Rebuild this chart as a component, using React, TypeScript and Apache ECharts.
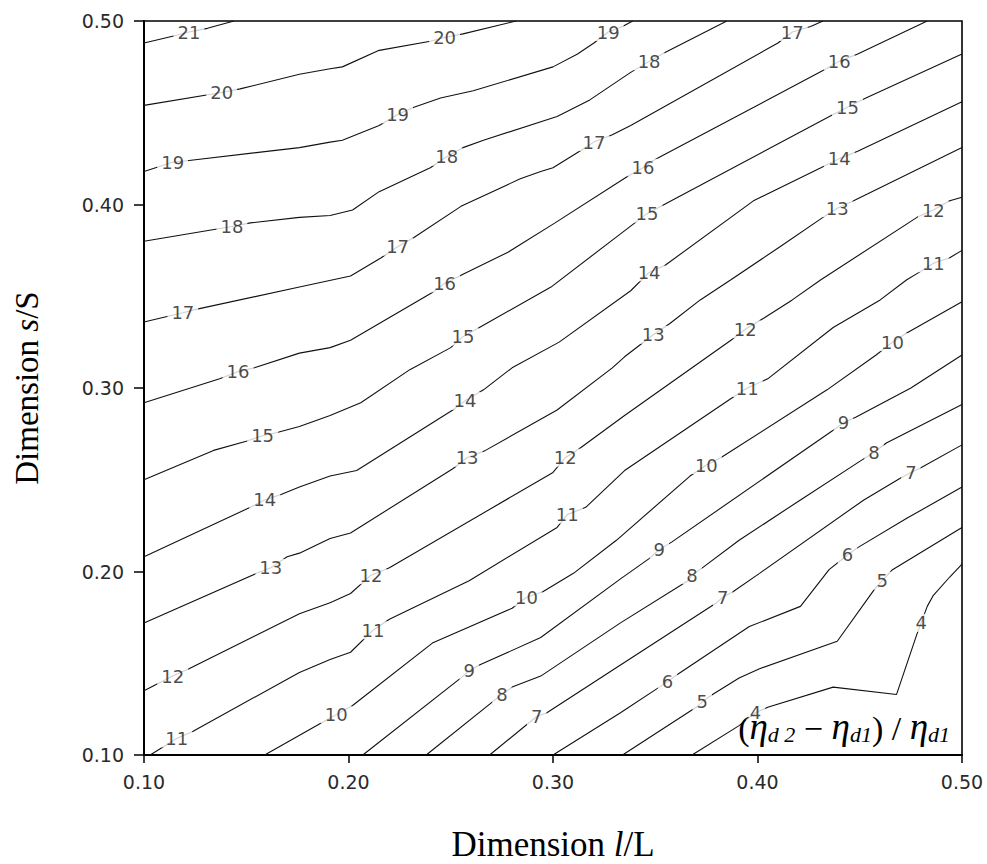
import React, { useEffect, useRef } from "react";
import * as echarts from "echarts";

// Axis ticks
const xTicks = [0.1, 0.2, 0.3, 0.4, 0.5];
const yTicks = [0.1, 0.2, 0.3, 0.4, 0.5];

// Contour lines: [l/L, s/S] points
const c4 = [[0.368,0.100],[0.391,0.116],[0.399,0.123],[0.405,0.126],[0.437,0.137],[0.468,0.133],[0.478,0.166],[0.480,0.172],[0.483,0.181],[0.486,0.187],[0.494,0.197],[0.500,0.204]];
const c5 = [[0.334,0.100],[0.370,0.126],[0.373,0.129],[0.378,0.133],[0.391,0.142],[0.401,0.147],[0.439,0.162],[0.457,0.190],[0.461,0.195],[0.466,0.201],[0.500,0.224]];
const c6 = [[0.300,0.100],[0.333,0.123],[0.352,0.137],[0.356,0.140],[0.361,0.144],[0.396,0.170],[0.421,0.181],[0.435,0.201],[0.444,0.209],[0.449,0.213],[0.473,0.229],[0.500,0.246]];
const c7 = [[0.269,0.100],[0.292,0.121],[0.297,0.123],[0.333,0.149],[0.380,0.183],[0.383,0.186],[0.388,0.189],[0.401,0.199],[0.452,0.239],[0.470,0.251],[0.475,0.254],[0.479,0.256],[0.500,0.269]];
const c8 = [[0.238,0.100],[0.275,0.133],[0.280,0.137],[0.294,0.143],[0.333,0.172],[0.366,0.195],[0.368,0.198],[0.373,0.202],[0.391,0.217],[0.421,0.239],[0.450,0.260],[0.457,0.265],[0.463,0.270],[0.500,0.291]];
const c9 = [[0.207,0.100],[0.255,0.142],[0.259,0.146],[0.264,0.149],[0.294,0.164],[0.333,0.196],[0.347,0.207],[0.352,0.212],[0.358,0.216],[0.437,0.277],[0.442,0.281],[0.448,0.284],[0.475,0.300],[0.500,0.318]];
const c10 = [[0.159,0.100],[0.186,0.117],[0.194,0.122],[0.202,0.127],[0.241,0.161],[0.280,0.180],[0.287,0.186],[0.295,0.189],[0.310,0.199],[0.331,0.217],[0.367,0.252],[0.375,0.258],[0.382,0.262],[0.434,0.299],[0.458,0.318],[0.466,0.325],[0.473,0.330],[0.500,0.347]];
const c11 = [[0.103,0.100],[0.116,0.109],[0.124,0.113],[0.176,0.145],[0.191,0.152],[0.201,0.156],[0.212,0.168],[0.220,0.174],[0.259,0.195],[0.302,0.224],[0.307,0.231],[0.316,0.235],[0.335,0.255],[0.388,0.295],[0.395,0.300],[0.405,0.305],[0.437,0.333],[0.460,0.348],[0.473,0.359],[0.479,0.363],[0.486,0.368],[0.494,0.371],[0.500,0.375]];
const c12 = [[0.100,0.135],[0.114,0.143],[0.122,0.147],[0.176,0.177],[0.191,0.183],[0.201,0.188],[0.211,0.198],[0.220,0.202],[0.300,0.254],[0.306,0.262],[0.313,0.267],[0.335,0.285],[0.387,0.326],[0.394,0.332],[0.403,0.338],[0.417,0.348],[0.431,0.359],[0.478,0.393],[0.486,0.397],[0.494,0.402],[0.500,0.404]];
const c13 = [[0.100,0.172],[0.155,0.199],[0.162,0.202],[0.170,0.208],[0.176,0.210],[0.191,0.218],[0.201,0.221],[0.251,0.256],[0.258,0.262],[0.267,0.266],[0.302,0.288],[0.329,0.311],[0.335,0.317],[0.349,0.329],[0.357,0.335],[0.372,0.348],[0.387,0.359],[0.411,0.377],[0.432,0.393],[0.439,0.398],[0.447,0.402],[0.500,0.431]];
const c14 = [[0.100,0.208],[0.152,0.235],[0.159,0.239],[0.167,0.242],[0.176,0.246],[0.191,0.252],[0.204,0.255],[0.251,0.288],[0.257,0.293],[0.266,0.299],[0.280,0.311],[0.303,0.325],[0.338,0.353],[0.347,0.363],[0.355,0.367],[0.398,0.402],[0.431,0.420],[0.440,0.425],[0.449,0.429],[0.500,0.456]];
const c15 = [[0.100,0.250],[0.134,0.266],[0.150,0.271],[0.158,0.274],[0.166,0.276],[0.176,0.279],[0.191,0.285],[0.206,0.292],[0.230,0.310],[0.250,0.322],[0.256,0.328],[0.264,0.333],[0.299,0.355],[0.333,0.384],[0.346,0.395],[0.356,0.401],[0.437,0.449],[0.444,0.453],[0.453,0.458],[0.500,0.482]];
const c16 = [[0.100,0.292],[0.137,0.305],[0.146,0.309],[0.154,0.311],[0.176,0.319],[0.191,0.322],[0.201,0.326],[0.241,0.352],[0.247,0.357],[0.256,0.362],[0.278,0.374],[0.301,0.390],[0.336,0.415],[0.344,0.420],[0.349,0.424],[0.432,0.473],[0.440,0.478],[0.449,0.482],[0.483,0.500]];
const c17 = [[0.100,0.336],[0.119,0.341],[0.126,0.343],[0.176,0.355],[0.201,0.361],[0.216,0.371],[0.224,0.377],[0.232,0.382],[0.255,0.399],[0.284,0.414],[0.294,0.418],[0.300,0.420],[0.313,0.429],[0.320,0.434],[0.329,0.438],[0.338,0.443],[0.410,0.488],[0.417,0.494],[0.426,0.497],[0.432,0.500]];
const c18 = [[0.100,0.380],[0.143,0.388],[0.152,0.390],[0.176,0.393],[0.191,0.394],[0.202,0.397],[0.215,0.407],[0.240,0.420],[0.248,0.426],[0.256,0.431],[0.266,0.435],[0.302,0.448],[0.318,0.457],[0.338,0.472],[0.347,0.478],[0.355,0.483],[0.385,0.500]];
const c19 = [[0.100,0.418],[0.114,0.423],[0.122,0.424],[0.176,0.431],[0.191,0.434],[0.197,0.435],[0.215,0.443],[0.224,0.449],[0.232,0.453],[0.245,0.458],[0.261,0.462],[0.300,0.475],[0.312,0.482],[0.320,0.488],[0.327,0.494],[0.334,0.497],[0.339,0.500]];
const c20 = [[0.100,0.454],[0.138,0.461],[0.147,0.463],[0.176,0.471],[0.191,0.474],[0.197,0.475],[0.215,0.484],[0.240,0.489],[0.247,0.491],[0.256,0.493],[0.282,0.500]];
const c21 = [[0.100,0.488],[0.115,0.492],[0.122,0.494],[0.131,0.496],[0.144,0.500]];

// Contour label positions
const l4 = [[0.399,0.123],[0.480,0.172]];
const l5 = [[0.373,0.129],[0.461,0.195]];
const l6 = [[0.356,0.140],[0.444,0.209]];
const l7 = [[0.292,0.121],[0.383,0.186],[0.475,0.254]];
const l8 = [[0.275,0.133],[0.368,0.198],[0.457,0.265]];
const l9 = [[0.259,0.146],[0.352,0.212],[0.442,0.281]];
const l10 = [[0.194,0.122],[0.287,0.186],[0.375,0.258],[0.466,0.325]];
const l11 = [[0.116,0.109],[0.212,0.168],[0.307,0.231],[0.395,0.300],[0.486,0.368]];
const l12 = [[0.114,0.143],[0.211,0.198],[0.306,0.262],[0.394,0.332],[0.486,0.397]];
const l13 = [[0.162,0.202],[0.258,0.262],[0.349,0.329],[0.439,0.398]];
const l14 = [[0.159,0.239],[0.257,0.293],[0.347,0.363],[0.440,0.425]];
const l15 = [[0.158,0.274],[0.256,0.328],[0.346,0.395],[0.444,0.453]];
const l16 = [[0.146,0.309],[0.247,0.357],[0.344,0.420],[0.440,0.478]];
const l17 = [[0.119,0.341],[0.224,0.377],[0.320,0.434],[0.417,0.494]];
const l18 = [[0.143,0.388],[0.248,0.426],[0.347,0.478]];
const l19 = [[0.114,0.423],[0.224,0.449],[0.327,0.494]];
const l20 = [[0.138,0.461],[0.247,0.491]];
const l21 = [[0.122,0.494]];

const levels = [4, 5, 6, 7, 8, 9, 10, 11, 12, 13, 14, 15, 16, 17, 18, 19, 20, 21];
const lines = [c4, c5, c6, c7, c8, c9, c10, c11, c12, c13, c14, c15, c16, c17, c18, c19, c20, c21];
const labelSets = [l4, l5, l6, l7, l8, l9, l10, l11, l12, l13, l14, l15, l16, l17, l18, l19, l20, l21];

const SANS = "'DejaVu Sans', 'Liberation Sans', Arial, sans-serif";
const SERIF = "'Liberation Serif', 'Times New Roman', serif";

export default function App() {
  const ref = useRef<HTMLDivElement>(null);
  useEffect(() => {
    if (!ref.current) return;
    const chart = echarts.init(ref.current, null, { renderer: "svg" });

    const lineSeries = levels.map((lv, i) => ({
      type: "line",
      name: "level " + lv,
      data: lines[i],
      symbol: "none",
      showSymbol: false,
      smooth: false,
      silent: true,
      z: 2,
      lineStyle: { color: "#111", width: 1.1 },
    }));

    const labelData: any[] = [];
    levels.forEach((lv, i) => {
      labelSets[i].forEach((p) => labelData.push({ value: [p[0], p[1], lv] }));
    });

    const nameStyle = (size: number) => ({
      fontFamily: SERIF,
      fontSize: size,
      color: "#000",
      rich: {
        a: { fontFamily: SERIF, fontSize: size, color: "#000" },
        b: { fontFamily: SERIF, fontSize: size, color: "#000", fontStyle: "italic" },
      },
    });

    chart.setOption({
      animation: false,
      backgroundColor: "#fff",
      grid: {
        left: 144,
        right: 25,
        top: 21,
        bottom: 109,
        show: true,
        borderColor: "#000",
        borderWidth: 1.6,
        containLabel: false,
        outerBoundsMode: "none",
      },
      xAxis: {
        type: "value",
        min: 0.1,
        max: 0.5,
        interval: 0.1,
        name: "{a|Dimension }{b|l}{a|/L}",
        nameLocation: "middle",
        nameGap: 72,
        nameTextStyle: nameStyle(35),
        axisLine: { show: true, onZero: false, lineStyle: { color: "#000", width: 2 } },
        axisTick: { show: true, inside: false, length: 8, lineStyle: { color: "#000", width: 1.5 } },
        splitLine: { show: false },
        axisLabel: {
          margin: 17,
          fontFamily: SANS,
          fontSize: 19,
          color: "#2a2a2a",
          formatter: (v: number) => v.toFixed(2),
          customValues: xTicks,
        },
      },
      yAxis: {
        type: "value",
        min: 0.1,
        max: 0.5,
        interval: 0.1,
        name: "{a|Dimension }{b|s}{a|/S}",
        nameLocation: "middle",
        nameGap: 101,
        nameTextStyle: nameStyle(33),
        axisLine: { show: true, onZero: false, lineStyle: { color: "#000", width: 2 } },
        axisTick: { show: true, inside: false, length: 10, lineStyle: { color: "#000", width: 1.5 } },
        splitLine: { show: false },
        axisLabel: {
          margin: 20,
          fontFamily: SANS,
          fontSize: 19,
          color: "#2a2a2a",
          formatter: (v: number) => v.toFixed(2),
          customValues: yTicks,
        },
      },
      series: [
        ...lineSeries,
        {
          type: "scatter",
          name: "labels",
          data: labelData,
          symbolSize: 1,
          silent: true,
          z: 5,
          itemStyle: { color: "rgba(0,0,0,0)" },
          label: {
            show: true,
            position: "inside",
            formatter: (p: any) => String(p.value[2]),
            fontFamily: SANS,
            fontSize: 18,
            lineHeight: 18,
            color: "#1a1a1a",
            backgroundColor: "#fff",
            padding: [0, 4],
          },
        },
      ],
      graphic: [
        {
          type: "text",
          x: 950,
          y: 745,
          z: 100,
          silent: true,
          style: {
            text: "{p|(}{e|η}{s|d 2}{p| − }{e|η}{s|d1}{p|) / }{e|η}{s|d1}",
            align: "right",
            verticalAlign: "bottom",
            fill: "#000",
            rich: {
              p: { fontFamily: SERIF, fontSize: 34, lineHeight: 40, verticalAlign: "bottom", fill: "#000" },
              e: { fontFamily: SERIF, fontSize: 37, lineHeight: 40, fontStyle: "italic", verticalAlign: "bottom", fill: "#000" },
              s: { fontFamily: SERIF, fontSize: 22, lineHeight: 15, fontStyle: "italic", verticalAlign: "bottom", fill: "#000" },
            },
          },
        },
      ],
    });

    return () => chart.dispose();
  }, []);

  return (
    <div
      ref={ref}
      style={{ position: "fixed", left: 0, top: 0, width: 987, height: 864, background: "#fff" }}
    />
  );
}
